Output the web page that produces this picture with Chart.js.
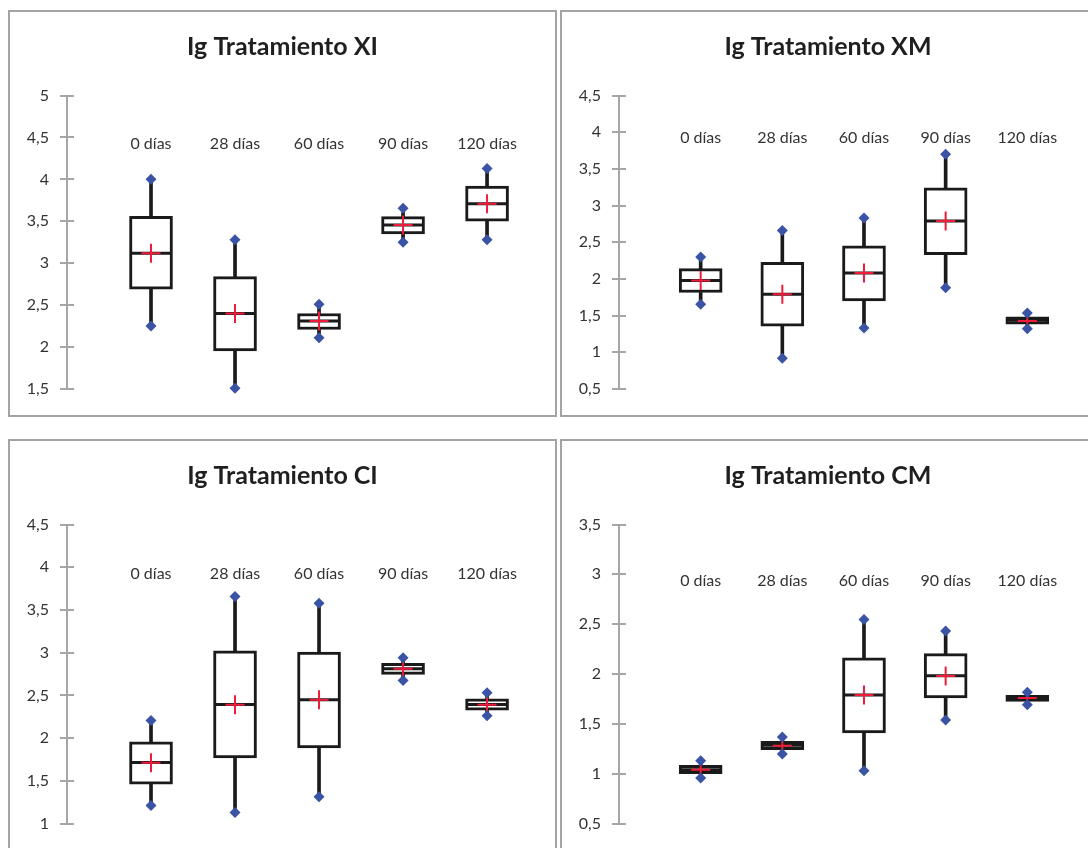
<!DOCTYPE html>
<html>
<head>
<meta charset="utf-8">
<script src="https://cdn.jsdelivr.net/npm/chart.js@4/dist/chart.umd.min.js"></script>
<style>
  html, body { margin: 0; padding: 0; background: #ffffff; width: 1088px; height: 848px; overflow: hidden; }
  .panel { position: absolute; box-sizing: border-box; border: 2px solid #a3a3a3; background: #fff; }
  .panel canvas { display: block; }
</style>
</head>
<body>
<div class="panel" style="left:8px; top:10px; width:549px; height:407px;"><canvas id="c1" width="545" height="403"></canvas></div>
<div class="panel" style="left:560px; top:10px; width:536px; height:407px;"><canvas id="c2" width="532" height="403"></canvas></div>
<div class="panel" style="left:8px; top:439px; width:549px; height:413px;"><canvas id="c3" width="545" height="409"></canvas></div>
<div class="panel" style="left:560px; top:439px; width:536px; height:413px;"><canvas id="c4" width="532" height="409"></canvas></div>
<script>
// ---------- DATA ----------
const categories = ['0 días', '28 días', '60 días', '90 días', '120 días'];

const xiMin    = [2.25, 1.51, 2.11, 3.25, 3.28];
const xiQ1     = [2.69, 1.955, 2.21, 3.35, 3.50];
const xiMedian = [3.12, 2.40, 2.31, 3.455, 3.71];
const xiQ3     = [3.56, 2.84, 2.40, 3.555, 3.92];
const xiMax    = [4.00, 3.28, 2.51, 3.655, 4.13];
const xiMean   = [3.12, 2.40, 2.31, 3.455, 3.71];
const xiTicks  = [1.5, 2, 2.5, 3, 3.5, 4, 4.5, 5];

const xmMin    = [1.656, 0.92, 1.33, 1.88, 1.32];
const xmQ1     = [1.815, 1.355, 1.70, 2.33, 1.383];
const xmMedian = [1.98, 1.79, 2.08, 2.79, 1.437];
const xmQ3     = [2.14, 2.225, 2.45, 3.24, 1.483];
const xmMax    = [2.30, 2.66, 2.83, 3.70, 1.537];
const xmMean   = [1.98, 1.79, 2.08, 2.79, 1.428];
const xmTicks  = [0.5, 1, 1.5, 2, 2.5, 3, 3.5, 4, 4.5];

const ciMin    = [1.21, 1.13, 1.314, 2.674, 2.26];
const ciQ1     = [1.46, 1.767, 1.885, 2.745, 2.326];
const ciMedian = [1.713, 2.393, 2.448, 2.81, 2.393];
const ciQ3     = [1.955, 3.022, 3.007, 2.874, 2.46];
const ciMax    = [2.205, 3.656, 3.577, 2.94, 2.53];
const ciMean   = [1.71, 2.39, 2.45, 2.81, 2.39];
const ciTicks  = [1, 1.5, 2, 2.5, 3, 3.5, 4, 4.5];

const cmMin    = [0.956, 1.197, 1.029, 1.538, 1.692];
const cmQ1     = [1.0, 1.24, 1.408, 1.759, 1.726];
const cmMedian = [1.04, 1.284, 1.789, 1.983, 1.759];
const cmQ3     = [1.083, 1.324, 2.161, 2.204, 1.786];
const cmMax    = [1.13, 1.367, 2.546, 2.432, 1.816];
const cmMean   = [1.04, 1.28, 1.79, 1.98, 1.76];
const cmTicks  = [0.5, 1, 1.5, 2, 2.5, 3, 3.5];

// ---------- STYLE ----------
const FONT = 'Lato, "Open Sans", sans-serif';
const AXIS_COLOR = '#a6a6a6';
const TEXT_COLOR = '#333333';
const TITLE_COLOR = '#1f1f1f';
const DIAMOND_COLOR = '#3a53a4';
const MEAN_COLOR = '#ee1c3a';

const overlay = {
  id: 'overlay',
  afterDatasetsDraw(chart, args, opts) {
    const { ctx, chartArea } = chart;
    const xs = chart.scales.x, ys = chart.scales.y;
    ctx.save();
    ctx.strokeStyle = AXIS_COLOR;
    ctx.lineWidth = 2;
    ys.ticks.forEach(t => {
      const y = Math.round(ys.getPixelForValue(t.value));
      ctx.beginPath();
      ctx.moveTo(chartArea.left, y);
      ctx.lineTo(chartArea.left + 7, y);
      ctx.stroke();
    });
    ctx.fillStyle = TEXT_COLOR;
    ctx.font = '16px ' + FONT;
    ctx.textAlign = 'center';
    ctx.textBaseline = 'middle';
    opts.labels.forEach((c, i) => {
      ctx.fillText(c, xs.getPixelForValue(i + 1), ys.getPixelForValue(opts.level));
    });
    ctx.restore();
  }
};

function pts(arr) { return arr.map((v, i) => ({ x: i + 1, y: v })); }
function ranges(lo, hi) { return lo.map((v, i) => ({ x: i + 1, y: [v, hi[i]] })); }

function makeChart(id, title, mn, q1, med, q3, mx, mean, ticks, level, padBottom) {
  const ctx = document.getElementById(id);
  new Chart(ctx, {
    type: 'bar',
    data: {
      datasets: [
        { type: 'scatter', order: 1, data: pts(mn).concat(pts(mx)), pointStyle: 'rectRot',
          pointRadius: 5.5, pointHoverRadius: 5.5, pointBackgroundColor: DIAMOND_COLOR,
          pointBorderColor: DIAMOND_COLOR, pointBorderWidth: 0, clip: false },
        { type: 'scatter', order: 2, data: pts(mean), pointStyle: 'cross', pointRadius: 9.5,
          pointHoverRadius: 9.5, pointBorderColor: MEAN_COLOR, pointBorderWidth: 2, clip: false },
        { type: 'scatter', order: 3, data: pts(med), pointStyle: 'line', pointRadius: 20,
          pointHoverRadius: 20, pointBorderColor: '#1a1a1a', pointBorderWidth: 3, clip: false },
        { type: 'bar', order: 4, data: ranges(q1, q3), backgroundColor: '#ffffff', borderColor: '#1a1a1a',
          borderWidth: 3, borderSkipped: false, barThickness: 43, grouped: false, clip: false },
        { type: 'bar', order: 5, data: ranges(mn, q1), backgroundColor: '#1a1a1a', borderWidth: 0,
          barThickness: 3, grouped: false, clip: false },
        { type: 'bar', order: 5, data: ranges(q3, mx), backgroundColor: '#1a1a1a', borderWidth: 0,
          barThickness: 3, grouped: false, clip: false }
      ]
    },
    options: {
      responsive: false,
      animation: false,
      events: [],
      devicePixelRatio: 1,
      layout: { padding: { top: 0, left: 0, right: 0, bottom: padBottom } },
      plugins: {
        legend: { display: false },
        tooltip: { enabled: false },
        title: {
          display: true, text: title, color: TITLE_COLOR,
          font: { family: FONT, size: 25, weight: 'bold' },
          padding: { top: 20, bottom: 33.5 }
        },
        overlay: { labels: categories, level: level }
      },
      scales: {
        x: { type: 'linear', display: false, min: 0, max: 5.535, offset: false, bounds: 'data' },
        y: {
          type: 'linear', min: ticks[0], max: ticks[ticks.length - 1],
          afterBuildTicks: s => { s.ticks = ticks.map(v => ({ value: v })); },
          afterFit: s => { s.width = 57; },
          border: { display: true, color: AXIS_COLOR, width: 2 },
          grid: { drawOnChartArea: false, drawTicks: true, tickLength: 7, color: AXIS_COLOR, lineWidth: 2 },
          ticks: {
            color: TEXT_COLOR, padding: 11, font: { family: FONT, size: 16 },
            callback: v => String(v).replace('.', ',')
          }
        }
      }
    },
    plugins: [overlay]
  });
}

makeChart('c1', 'Ig Tratamiento XI', xiMin, xiQ1, xiMedian, xiQ3, xiMax, xiMean, xiTicks, 4.42, 26);
makeChart('c2', 'Ig Tratamiento XM', xmMin, xmQ1, xmMedian, xmQ3, xmMax, xmMean, xmTicks, 3.92, 26);
makeChart('c3', 'Ig Tratamiento CI', ciMin, ciQ1, ciMedian, ciQ3, ciMax, ciMean, ciTicks, 3.92, 26.5);
makeChart('c4', 'Ig Tratamiento CM', cmMin, cmQ1, cmMedian, cmQ3, cmMax, cmMean, cmTicks, 2.934, 26.5);
</script>
</body>
</html>
